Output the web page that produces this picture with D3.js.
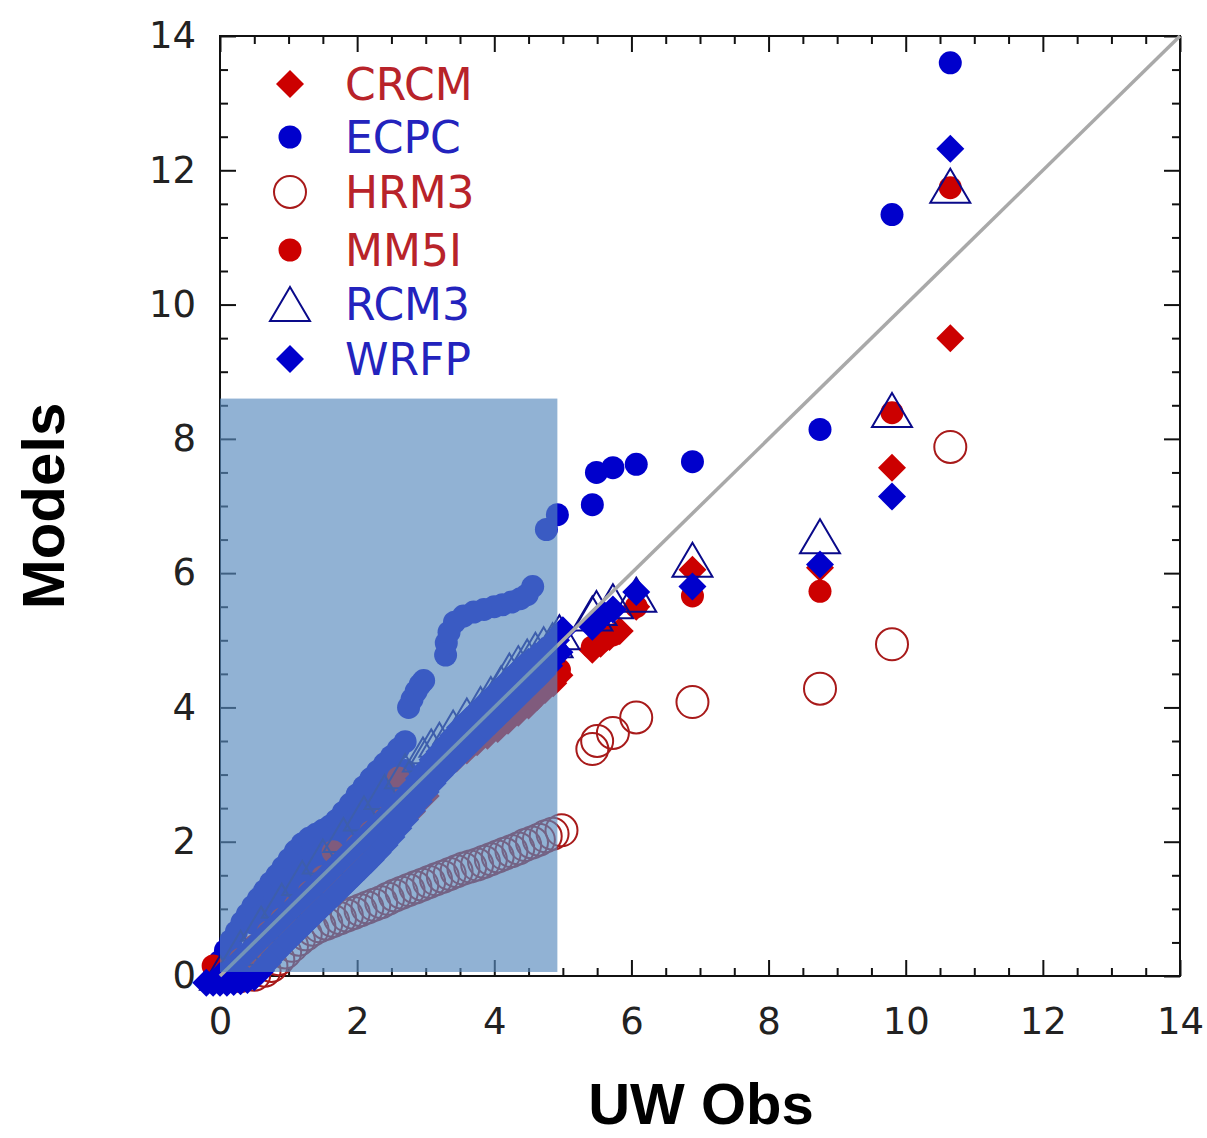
<!DOCTYPE html>
<html>
<head>
<meta charset="utf-8">
<script src="https://d3js.org/d3.v7.min.js"></script>
<style>
body { margin: 0; background: #fff; }
</style>
</head>
<body>
<div id="chart"></div>
<script>
/* Q-Q scatter: models vs UW obs */

// tick labels
const majorTicks = [0, 2, 4, 6, 8, 10, 12, 14];

// points: [UW Obs, model]
const crcm = [[0.2,0.0],[0.4,0.08],[0.6,0.25],[0.8,0.45],[1.0,0.65],[1.2,0.85],[1.4,1.05],[1.6,1.25],[1.8,1.45],[2.0,1.65],[2.2,1.85],[2.4,2.05],[2.6,2.25],[2.8,2.45],[3.0,2.68],
  [3.15,2.98],[3.3,3.12],[3.45,3.24],[3.6,3.36],[3.75,3.48],[3.9,3.58],[4.05,3.68],[4.2,3.8],[4.35,3.92],[4.5,4.03],[4.62,4.15],[4.74,4.26],[4.86,4.36],[4.95,4.48],
  [5.43,4.86],[5.55,4.95],[5.68,5.05],[5.83,5.14],[6.07,5.5],[6.89,6.05],[8.75,6.08],[9.8,7.57],[10.65,9.5]];

const ecpc = [[-0.08,0.08],[0.0,0.22],[0.08,0.38],[0.16,0.53],[0.24,0.66],[0.32,0.8],[0.4,0.92],[0.48,1.04],[0.56,1.15],[0.65,1.27],[0.74,1.39],[0.83,1.5],[0.92,1.62],[1.01,1.74],[1.1,1.86],[1.2,1.97],[1.3,2.05],[1.4,2.11],[1.5,2.17],[1.6,2.23],[1.7,2.32],[1.8,2.44],[1.9,2.56],[2.0,2.7],[2.1,2.82],[2.2,2.94],[2.3,3.05],[2.4,3.16],[2.5,3.27],[2.6,3.38],[2.7,3.49],
  [2.75,4.0],[2.8,4.12],[2.86,4.24],[2.92,4.34],[2.97,4.4],
  [3.29,4.78],[3.3,4.96],[3.34,5.12],[3.42,5.27],[3.55,5.36],[3.7,5.42],[3.85,5.46],[4.0,5.5],[4.12,5.53],[4.25,5.57],[4.38,5.62],[4.48,5.68],[4.56,5.8],[4.76,6.65],[4.92,6.87],
  [5.43,7.02],[5.49,7.5],[5.73,7.57],[6.07,7.62],[6.89,7.66],[8.75,8.14],[9.8,11.34],[10.65,13.6],
  // second branch
  [0.5,0.78],[0.6,0.9],[0.7,1.02],[0.8,1.13],[0.9,1.24],[1.0,1.35],[1.1,1.45],[1.2,1.55],[1.3,1.65],[1.4,1.75],[1.5,1.85],[1.6,1.95],[1.7,2.05],[1.8,2.15],[1.9,2.25],[2.0,2.36],[2.1,2.46],[2.2,2.56],[2.3,2.66],[2.4,2.76],[2.5,2.86],[2.6,2.96],[2.7,3.06]];

const hrm3 = [[0.3,0.0],[0.5,0.02],[0.65,0.08],[0.75,0.15],[0.85,0.25],[0.95,0.35],[1.05,0.45],[1.15,0.54],[1.25,0.62],[1.35,0.69],[1.45,0.74],[1.55,0.78],[1.65,0.82],[1.75,0.86],[1.85,0.9],[1.95,0.94],[2.05,0.98],[2.15,1.02],[2.25,1.06],[2.35,1.1],[2.45,1.15],[2.55,1.2],[2.65,1.24],[2.75,1.28],[2.85,1.32],[2.95,1.36],[3.05,1.4],[3.15,1.44],[3.25,1.48],[3.35,1.52],[3.45,1.56],[3.55,1.6],[3.65,1.63],[3.75,1.66],[3.85,1.7],[3.95,1.74],[4.05,1.78],[4.15,1.82],[4.25,1.86],[4.35,1.9],[4.45,1.95],[4.55,1.99],[4.65,2.03],[4.75,2.08],[4.85,2.12],[4.98,2.17],
  [5.43,3.38],[5.5,3.5],[5.73,3.62],[6.07,3.85],[6.89,4.08],[8.75,4.28],[9.8,4.94],[10.65,7.88]];

const mm5i = [[-0.1,0.15],[0.1,0.08],[0.3,0.25],[0.5,0.45],[0.7,0.65],[0.9,0.85],[1.1,1.05],[1.3,1.25],[1.5,1.48],[1.65,1.85],[1.8,1.78],[2.0,1.95],[2.2,2.15],[2.4,2.35],[2.6,2.95],[2.7,2.7],[2.8,2.78],[3.0,3.0],[3.2,3.2],[3.4,3.38],[3.6,3.56],[3.8,3.74],[4.0,3.92],[4.2,4.1],[4.4,4.26],[4.6,4.4],[4.8,4.5],[4.95,4.56],
  [5.43,4.9],[5.55,4.98],[5.73,5.08],[6.07,5.5],[6.89,5.66],[8.75,5.73],[9.8,8.39],[10.65,11.74]];

const rcm3 = [[0.0,0.05],[0.3,0.42],[0.6,0.78],[0.9,1.12],[1.2,1.46],[1.5,1.78],[1.8,2.1],[2.1,2.42],[2.4,2.74],[2.7,3.05],[2.96,3.3],[3.08,3.42],[3.2,3.52],[3.4,3.7],[3.6,3.88],[3.8,4.05],[3.95,4.2],[4.1,4.36],[4.22,4.55],[4.35,4.66],[4.48,4.76],[4.6,4.86],[4.72,4.94],[4.85,5.0],[4.95,5.12],
  [5.43,5.4],[5.49,5.48],[5.73,5.58],[6.07,5.68],[6.89,6.2],[8.75,6.55],[9.8,8.43],[10.65,11.77]];

const wrfp = [[0.0,0.0],[0.1,0.06],[0.2,0.15],[0.3,0.25],[0.4,0.35],[0.5,0.45],[0.6,0.55],[0.7,0.65],[0.8,0.75],[0.9,0.85],[1.0,0.95],[1.1,1.05],[1.2,1.15],[1.3,1.25],[1.4,1.35],[1.5,1.45],[1.6,1.55],[1.7,1.65],[1.8,1.75],[1.9,1.85],[2.0,1.95],[2.1,2.05],[2.2,2.15],[2.3,2.25],[2.4,2.35],[2.5,2.45],[2.6,2.56],[2.7,2.68],[2.8,2.8],[2.9,2.94],[3.0,3.08],[3.1,3.22],[3.2,3.34],[3.3,3.46],[3.4,3.58],[3.5,3.7],[3.6,3.8],[3.7,3.9],[3.8,4.0],[3.9,4.1],[4.0,4.2],[4.1,4.3],[4.2,4.4],[4.3,4.5],[4.4,4.6],[4.5,4.68],[4.6,4.76],[4.7,4.84],[4.8,4.92],[4.9,5.0],[5.0,5.15],
  // lower branch
  [-0.2,-0.1],[-0.1,-0.1],[0.0,-0.1],[0.1,-0.1],[0.2,-0.09],[0.3,-0.08],[0.4,-0.06],[0.5,-0.02],[0.6,0.08],[0.7,0.2],[0.8,0.32],[0.9,0.43],[1.0,0.53],[1.1,0.63],[1.2,0.73],[1.3,0.83],[1.4,0.93],[1.5,1.03],[1.6,1.13],[1.7,1.23],[1.8,1.33],[1.9,1.43],[2.0,1.53],[2.1,1.63],[2.2,1.73],[2.3,1.84],[2.4,1.95],[2.5,2.07],[2.6,2.2],[2.7,2.33],[2.8,2.47],[2.9,2.6],[3.0,2.74],[3.1,2.87],[3.2,2.99],[3.3,3.1],[3.4,3.2],[3.5,3.3],[3.6,3.4],[3.7,3.5],[3.8,3.6],[3.9,3.7],[4.0,3.8],[4.1,3.9],[4.2,4.0],[4.3,4.1],[4.4,4.2],[4.5,4.3],[4.6,4.4],[4.7,4.5],[4.8,4.62],[4.95,4.82],
  [5.43,5.2],[5.49,5.31],[5.6,5.38],[5.73,5.46],[6.07,5.72],[6.89,5.8],[8.75,6.13],[9.8,7.14],[10.65,12.32]];

// shaded box [x0, x1, y0, y1] in data units
const shadeBox = [0, 4.92, 0.06, 8.6];

const red = "#cc0000", blue = "#0000cc";
const series = [
  {name: "CRCM", pts: crcm, shape: "diamond", fill: red, stroke: "none", text: "#b8232a"},
  {name: "ECPC", pts: ecpc, shape: "circle", fill: blue, stroke: "none", text: "#2323bd"},
  {name: "HRM3", pts: hrm3, shape: "ring", fill: "none", stroke: "#a81a1a", text: "#b8232a"},
  {name: "MM5I", pts: mm5i, shape: "circle", fill: red, stroke: "none", text: "#b8232a"},
  {name: "RCM3", pts: rcm3, shape: "triangle", fill: "none", stroke: "#0a0a8a", text: "#2323bd"},
  {name: "WRFP", pts: wrfp, shape: "diamond", fill: blue, stroke: "none", text: "#2323bd"}
];

// marker outlines
const shapes = {
  diamond: "M0,-14L14,0L0,14L-14,0Z",
  circle: d3.arc()({innerRadius: 0, outerRadius: 11.5, startAngle: 0, endAngle: 2 * Math.PI}),
  ring: d3.arc()({innerRadius: 0, outerRadius: 16, startAngle: 0, endAngle: 2 * Math.PI}),
  triangle: "M0,-17L20,17L-20,17Z"
};

const W = 1207, H = 1138;
const plot = {left: 220, right: 1180, top: 36, bottom: 976};

const svg = d3.select("#chart")
  .append("svg")
  .attr("width", W)
  .attr("height", H);

const x = d3.scaleLinear().domain([0, 14]).range([plot.left, plot.right]);
const y = d3.scaleLinear().domain([0, 14]).range([plot.bottom, plot.top]);
const minor = d3.range(0, 14.01, 0.5).filter(v => v % 2 !== 0);

// axes with inward ticks on all four sides
function styleAxis(g){
  g.selectAll(".domain").remove();
  g.selectAll("line").attr("stroke", "#111").attr("stroke-width", 2);
  g.selectAll("text").attr("font-family", "DejaVu Sans, sans-serif").attr("font-size", 37).attr("fill", "#222");
}
svg.append("g").attr("transform", "translate(0," + plot.bottom + ")")
  .call(d3.axisBottom(x).tickValues(majorTicks).tickSize(-16).tickPadding(32).tickFormat(d3.format("d")))
  .call(styleAxis);
svg.append("g").attr("transform", "translate(0," + plot.bottom + ")")
  .call(d3.axisBottom(x).tickValues(minor).tickSize(-8).tickFormat(""))
  .call(styleAxis);
svg.append("g").attr("transform", "translate(" + plot.left + ",0)")
  .call(d3.axisLeft(y).tickValues(majorTicks).tickSize(-16).tickPadding(24).tickFormat(d3.format("d")))
  .call(styleAxis);
svg.append("g").attr("transform", "translate(" + plot.left + ",0)")
  .call(d3.axisLeft(y).tickValues(minor).tickSize(-8).tickFormat(""))
  .call(styleAxis);
svg.append("g").attr("transform", "translate(0," + plot.top + ")")
  .call(d3.axisTop(x).tickValues(majorTicks).tickSize(-16).tickFormat(""))
  .call(styleAxis);
svg.append("g").attr("transform", "translate(0," + plot.top + ")")
  .call(d3.axisTop(x).tickValues(minor).tickSize(-8).tickFormat(""))
  .call(styleAxis);
svg.append("g").attr("transform", "translate(" + plot.right + ",0)")
  .call(d3.axisRight(y).tickValues(majorTicks).tickSize(-16).tickFormat(""))
  .call(styleAxis);
svg.append("g").attr("transform", "translate(" + plot.right + ",0)")
  .call(d3.axisRight(y).tickValues(minor).tickSize(-8).tickFormat(""))
  .call(styleAxis);

svg.append("rect")
  .attr("x", plot.left).attr("y", plot.top)
  .attr("width", plot.right - plot.left).attr("height", plot.bottom - plot.top)
  .attr("fill", "none").attr("stroke", "#111").attr("stroke-width", 2);

// markers, in legend order
series.forEach(s => {
  svg.append("g")
    .selectAll("path")
    .data(s.pts)
    .join("path")
    .attr("d", shapes[s.shape])
    .attr("transform", d => "translate(" + x(d[0]) + "," + y(d[1]) + ")")
    .attr("fill", s.fill)
    .attr("stroke", s.stroke)
    .attr("stroke-width", 2);
});

// 1:1 line
svg.append("line")
  .attr("x1", x(0)).attr("y1", y(0))
  .attr("x2", x(14)).attr("y2", y(14))
  .attr("stroke", "#a9a9a9")
  .attr("stroke-width", 3.5);

// translucent box over the low end
svg.append("rect")
  .attr("x", x(shadeBox[0]))
  .attr("y", y(shadeBox[3]))
  .attr("width", x(shadeBox[1]) - x(shadeBox[0]))
  .attr("height", y(shadeBox[2]) - y(shadeBox[3]))
  .attr("fill", "rgb(88,138,189)")
  .attr("fill-opacity", 0.66);

// legend
const legendRows = [84, 137, 192, 250, 304, 359];
const legend = svg.append("g");
series.forEach((s, i) => {
  legend.append("path")
    .attr("d", shapes[s.shape])
    .attr("transform", "translate(290," + legendRows[i] + ")")
    .attr("fill", s.fill)
    .attr("stroke", s.stroke)
    .attr("stroke-width", 2);
  legend.append("text")
    .attr("x", 345)
    .attr("y", legendRows[i])
    .attr("dy", "0.36em")
    .attr("font-family", "DejaVu Sans, sans-serif")
    .attr("font-size", 44)
    .attr("fill", s.text)
    .text(s.name);
});

// axis titles
svg.append("text")
  .attr("transform", "translate(64,506) rotate(-90)")
  .attr("text-anchor", "middle")
  .attr("font-family", "Liberation Sans, Arial, sans-serif")
  .attr("font-weight", "bold")
  .attr("font-size", 60)
  .attr("fill", "#000")
  .text("Models");

svg.append("text")
  .attr("x", 701)
  .attr("y", 1124)
  .attr("text-anchor", "middle")
  .attr("font-family", "Liberation Sans, Arial, sans-serif")
  .attr("font-weight", "bold")
  .attr("font-size", 58)
  .attr("fill", "#000")
  .text("UW Obs");
</script>
</body>
</html>
